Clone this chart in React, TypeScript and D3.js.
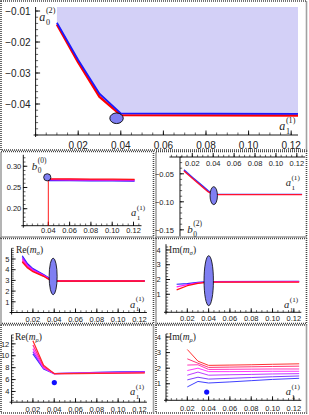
import React from 'react';
import * as d3 from 'd3';

// ---------- data ----------
const ticks002 = [0.02, 0.04, 0.06, 0.08, 0.1, 0.12];

// top panel: a0^(2) vs a1^(1)
const topX = [0.01, 0.02, 0.03, 0.04, 0.1232];
const topBlue = [-0.0138, -0.0258, -0.0367, -0.043, -0.0432];
const topRed = [-0.0143, -0.0266, -0.0377, -0.0436, -0.0437];
const topPoint = { x: 0.038, y: -0.0446 };

// b0^(0)
const b00X = [0.04, 0.06, 0.08, 0.1, 0.121];
const b00Lines = [
  [0.2665, 0.2662, 0.2658, 0.2655, 0.2652],
  [0.2678, 0.2675, 0.2671, 0.2668, 0.2665],
  [0.2692, 0.2688, 0.2685, 0.2681, 0.2678],
  [0.2705, 0.2702, 0.2698, 0.2695, 0.2692],
];
const b00DropX = [0.04, 0.04];
const b00DropY = [0.16, 0.2705];
const b00Point = { x: 0.039, y: 0.274 };

// b0^(2)
const b02X = [0.012, 0.02, 0.03, 0.035, 0.04, 0.125];
const b02Blue = [-0.043, -0.056, -0.072, -0.08, -0.0865, -0.0868];
const b02Red = [-0.045, -0.058, -0.074, -0.082, -0.0872, -0.0872];
const b02Point = { x: 0.0405, y: -0.089 };

// Re(m_sigma)
const reSigX = [0.01, 0.015, 0.02, 0.03, 0.037, 0.04, 0.125];
const reSigLines = [
  [5.3, 4.55, 4.1, 3.55, 3.1, 2.95, 2.95],
  [5.15, 4.45, 4.02, 3.5, 3.07, 2.95, 2.95],
  [5.0, 4.35, 3.95, 3.46, 3.04, 2.95, 2.95],
  [4.85, 4.25, 3.88, 3.42, 3.0, 2.95, 2.95],
  [4.72, 4.15, 3.82, 3.38, 2.98, 2.93, 2.93],
];
const reSigPoint = { x: 0.039, y: 3.37 };

// Im(m_sigma)
const imSigX = [0.01, 0.02, 0.03, 0.04, 0.125];
const imSigLines = [
  [1.68, 1.72, 1.8, 1.85, 1.87],
  [1.5, 1.65, 1.77, 1.84, 1.85],
  [1.3, 1.58, 1.74, 1.82, 1.82],
];
const imSigPoint = { x: 0.0401, y: 1.92 };

// Re(m_rho)
const reRhoX = [0.02, 0.03, 0.04, 0.06, 0.08, 0.1, 0.125];
const reRhoLines = [
  [10.3, 7.8, 7.0, 7.1, 7.2, 7.28, 7.35],
  [10.7, 7.9, 7.0, 7.08, 7.15, 7.22, 7.28],
  [11.2, 8.0, 7.0, 7.05, 7.1, 7.16, 7.22],
  [11.8, 8.2, 7.0, 7.03, 7.06, 7.1, 7.15],
  [12.5, 8.4, 7.0, 7.0, 7.03, 7.06, 7.1],
];
const reRhoPoint = { x: 0.0401, y: 5.5 };

// Im(m_rho)
const imRhoX = [0.02, 0.03, 0.04, 0.06, 0.08, 0.1, 0.125];
const imRhoLines = [
  [0.8, 1.15, 1.05, 1.12, 1.2, 1.28, 1.35],
  [1.25, 1.42, 1.3, 1.35, 1.4, 1.45, 1.5],
  [1.55, 1.75, 1.55, 1.58, 1.6, 1.63, 1.65],
  [1.85, 2.0, 1.78, 1.78, 1.79, 1.8, 1.8],
  [2.2, 2.22, 1.92, 1.93, 1.94, 1.95, 1.95],
  [2.6, 2.32, 2.05, 2.07, 2.09, 2.11, 2.13],
  [3.2, 2.45, 2.18, 2.2, 2.22, 2.25, 2.28],
];
const imRhoPoint = { x: 0.0382, y: 0.47 };

// ---------- helpers ----------
type Sc = d3.ScaleLinear<number, number>;
const tickFont = 'Liberation Sans, Arial, sans-serif';
const serif = 'Liberation Serif, Times New Roman, serif';

const blend = (i: number, n: number) =>
  d3.interpolateHsl('#2020ff', '#ff1010')(n === 1 ? 1 : i / (n - 1));

const fmt2 = (v: number) => v.toFixed(2).replace('-', '\u2212');
const fmtInt = (v: number) => String(v);

function range(lo: number, hi: number, step: number) {
  const out: number[] = [];
  for (let k = Math.ceil(lo / step - 1e-6); k * step <= hi + 1e-9; k++) out.push(k * step);
  return out;
}

type AxesProps = {
  x: Sc; y: Sc; xAt: number; yAt: number;
  xMajor: number[]; xMinor: number; yMajor: number[]; yMinor: number;
  xFmt: (v: number) => string; yFmt: (v: number) => string;
  fs: number; xLabelDy: number; yGap: number; major?: number; minor?: number;
};

function Axes(p: AxesProps) {
  const { x, y } = p;
  const major = p.major ?? 4;
  const minor = p.minor ?? 2.2;
  const [xd0, xd1] = x.domain();
  const [yd0, yd1] = y.domain();
  const ax = y(p.xAt);
  const ay = x(p.yAt);
  const xr = x.range();
  const yr = y.range();
  return (
    <g stroke="#000" strokeWidth={0.9} fill="none">
      <line x1={xr[0] - 2} x2={xr[1]} y1={ax} y2={ax} />
      <line x1={ay} x2={ay} y1={yr[0] + 2} y2={yr[1]} />
      {range(xd0, xd1, p.xMinor).map((v, i) => (
        <line key={'xm' + i} x1={x(v)} x2={x(v)} y1={ax} y2={ax - minor} strokeWidth={0.6} />
      ))}
      {p.xMajor.map((v, i) => (
        <line key={'xM' + i} x1={x(v)} x2={x(v)} y1={ax} y2={ax - major} />
      ))}
      {range(yd0, yd1, p.yMinor).map((v, i) => (
        <line key={'ym' + i} x1={ay} x2={ay + minor} y1={y(v)} y2={y(v)} strokeWidth={0.6} />
      ))}
      {p.yMajor.map((v, i) => (
        <line key={'yM' + i} x1={ay} x2={ay + major} y1={y(v)} y2={y(v)} />
      ))}
      <g stroke="none" fill="#222" fontFamily={tickFont} fontSize={p.fs}>
        {p.xMajor.map((v, i) => (
          <text key={'xl' + i} x={x(v)} y={ax + p.xLabelDy} textAnchor="middle">{p.xFmt(v)}</text>
        ))}
        {p.yMajor.map((v, i) => (
          <text key={'yl' + i} x={ay - p.yGap} y={y(v) + p.fs * 0.36} textAnchor="end">{p.yFmt(v)}</text>
        ))}
      </g>
    </g>
  );
}

function Sym({ x, y, base, sub, sup, fs }: { x: number; y: number; base: string; sub: string; sup: string; fs: number }) {
  return (
    <g fontFamily={serif} fill="#222">
      <text x={x} y={y} fontSize={fs} fontStyle="italic">{base}</text>
      <text x={x + fs * 0.55} y={y - fs * 0.62} fontSize={fs * 0.68}>{sup}</text>
      <text x={x + fs * 0.55} y={y + fs * 0.32} fontSize={fs * 0.68}>{sub}</text>
    </g>
  );
}

function Mass({ x, y, part, sub, fs }: { x: number; y: number; part: string; sub: string; fs: number }) {
  return (
    <text x={x} y={y} fontFamily={serif} fontSize={fs} fill="#222">
      {part}(<tspan fontStyle="italic">m</tspan>
      <tspan dy={fs * 0.3} fontSize={fs * 0.7} fontStyle="italic">{sub}</tspan>
      <tspan dy={-fs * 0.3}>)</tspan>
    </text>
  );
}

function Frame({ r }: { r: [number, number, number, number] }) {
  return (
    <rect x={r[0]} y={r[1]} width={r[2] - r[0]} height={r[3] - r[1]} fill="none"
      stroke="#444" strokeWidth={1.6} strokeDasharray="1 1" />
  );
}

function Lines({ xs, rows, x, y, w, opacity = 1 }: { xs: number[]; rows: number[][]; x: Sc; y: Sc; w: number; opacity?: number }) {
  const gen = d3.line<number>().x((_, i) => x(xs[i])).y((d) => y(d));
  return (
    <g fill="none" strokeWidth={w} strokeLinejoin="round" opacity={opacity}>
      {rows.map((r, i) => (
        <path key={i} d={gen(r) ?? ''} stroke={blend(i, rows.length)} />
      ))}
    </g>
  );
}

const ellFill = '#7f7ff2';

export default function App() {
  // top panel
  const tx = d3.scaleLinear().domain([0, 0.1232]).range([35.6, 298]);
  const ty = d3.scaleLinear().domain([-0.05, -0.0087]).range([135, 7]);
  const topLine = d3.line<number>().x((_, i) => tx(topX[i])).y((d) => ty(d));
  const topArea = d3.area<number>().x((_, i) => tx(topX[i])).y0(() => ty(-0.0087)).y1((d) => ty(d));

  // row 2
  const ax2 = d3.scaleLinear().domain([0.0165, 0.1275]).range([23.3, 141.5]);
  const ay2 = d3.scaleLinear().domain([0.16, 0.327]).range([225.7, 154.8]);
  const bx2 = d3.scaleLinear().domain([0, 0.128]).range([171.4, 305.2]);
  const by2 = d3.scaleLinear().domain([-0.158, -0.02]).range([234.3, 157]);
  const dropLine = d3.line<number>().x((_, i) => ax2(b00DropX[i])).y((d) => ay2(d));
  const b02Line = d3.line<number>().x((_, i) => bx2(b02X[i])).y((d) => by2(d));

  // row 3
  const ax3 = d3.scaleLinear().domain([0, 0.127]).range([11.6, 146.9]);
  const ay3 = d3.scaleLinear().domain([0, 6]).range([312.5, 248.3]);
  const bx3 = d3.scaleLinear().domain([0, 0.127]).range([166, 301.3]);
  const by3 = d3.scaleLinear().domain([-0.22, 4.39]).range([312.3, 244.2]);

  // row 4
  const ax4 = d3.scaleLinear().domain([0, 0.127]).range([11.6, 146.9]);
  const ay4 = d3.scaleLinear().domain([2.2, 13.5]).range([402.2, 334.9]);
  const bx4 = d3.scaleLinear().domain([0, 0.127]).range([166, 301.3]);
  const by4 = d3.scaleLinear().domain([-0.06, 4.2]).range([400.3, 333.9]);

  return (
    <svg width={309} height={415} viewBox="0 0 309 415"
      style={{ position: 'absolute', left: 0, top: 0, background: '#fff' }}>
      {/* frames */}
      <Frame r={[1, 1, 306.5, 150]} />
      <Frame r={[1, 151.5, 153.5, 237]} />
      <Frame r={[156, 151.5, 306.5, 237]} />
      <Frame r={[1, 238.5, 153.5, 323.5]} />
      <Frame r={[156, 238.5, 306.5, 323.5]} />
      <Frame r={[1, 325, 153.5, 413]} />
      <Frame r={[156, 325, 306.5, 413]} />

      {/* ---- top panel ---- */}
      <path d={topArea(topBlue) ?? ''} fill="#d3d0f7" />
      <path d={topLine(topRed) ?? ''} fill="none" stroke="#ff0000" strokeWidth={2.4} strokeLinejoin="round" />
      <path d={topLine(topBlue) ?? ''} fill="none" stroke="#1a1aff" strokeWidth={1.8} strokeLinejoin="round" />
      <Axes x={tx} y={ty} xAt={-0.05} yAt={0} xMajor={ticks002} xMinor={0.005}
        yMajor={[-0.04, -0.03, -0.02, -0.01]} yMinor={0.002} xFmt={fmt2} yFmt={fmt2}
        fs={10} xLabelDy={14} yGap={5} major={4.5} minor={2.5} />
      <ellipse cx={tx(topPoint.x)} cy={ty(topPoint.y)} rx={6.7} ry={5.3} fill={ellFill} stroke="#000" strokeWidth={0.9} />
      <Sym x={39.3} y={20.7} base="a" sub="0" sup="(2)" fs={12} />
      <Sym x={279.3} y={130} base="a" sub="1" sup="(1)" fs={12} />

      {/* ---- b0^(0) ---- */}
      <Axes x={ax2} y={ay2} xAt={0.16} yAt={0.0165} xMajor={[0.04, 0.06, 0.08, 0.1, 0.12]} xMinor={0.005}
        yMajor={[0.2, 0.25, 0.3]} yMinor={0.01} xFmt={fmt2} yFmt={fmt2}
        fs={7.5} xLabelDy={7.6} yGap={2} />
      <Lines xs={b00X} rows={b00Lines} x={ax2} y={ay2} w={1.3} />
      <path d={dropLine(b00DropY) ?? ''} stroke="#ff0000" strokeWidth={0.9} fill="none" />
      <circle cx={ax2(b00Point.x)} cy={ay2(b00Point.y)} r={3.6} fill={ellFill} stroke="#000" strokeWidth={0.8} />
      <Sym x={31.7} y={169.7} base="b" sub="0" sup="(0)" fs={11} />
      <Sym x={131} y={216.3} base="a" sub="1" sup="(1)" fs={10.5} />

      {/* ---- b0^(2) ---- */}
      <Axes x={bx2} y={by2} xAt={-0.02} yAt={0.0082} xMajor={ticks002} xMinor={0.005}
        yMajor={[-0.15, -0.1, -0.05]} yMinor={0.01} xFmt={fmt2} yFmt={fmt2}
        fs={7.5} xLabelDy={9.4} yGap={6} />
      <path d={b02Line(b02Blue) ?? ''} fill="none" stroke="#3030ff" strokeWidth={1.4} />
      <path d={b02Line(b02Red) ?? ''} fill="none" stroke="#ff1030" strokeWidth={1.4} />
      <ellipse cx={bx2(b02Point.x)} cy={by2(b02Point.y)} rx={3.7} ry={9} fill={ellFill} stroke="#000" strokeWidth={0.8} />
      <Sym x={187.3} y={233} base="b" sub="0" sup="(2)" fs={11} />
      <Sym x={285.7} y={186.3} base="a" sub="1" sup="(1)" fs={10.5} />

      {/* ---- Re(m_sigma) ---- */}
      <Axes x={ax3} y={ay3} xAt={0} yAt={0} xMajor={ticks002} xMinor={0.005}
        yMajor={[1, 2, 3, 4, 5]} yMinor={0.2} xFmt={fmt2} yFmt={fmtInt}
        fs={7.5} xLabelDy={9} yGap={2.3} />
      <Lines xs={reSigX} rows={reSigLines} x={ax3} y={ay3} w={1.2} />
      <ellipse cx={ax3(reSigPoint.x)} cy={ay3(reSigPoint.y)} rx={4} ry={18.3} fill={ellFill} stroke="#000" strokeWidth={0.8} />
      <Mass x={16} y={252.5} part="Re" sub="σ" fs={9.5} />
      <Sym x={130} y={307.5} base="a" sub="1" sup="(1)" fs={10.5} />

      {/* ---- Im(m_sigma) ---- */}
      <Axes x={bx3} y={by3} xAt={-0.22} yAt={0} xMajor={ticks002} xMinor={0.005}
        yMajor={[1, 2, 3, 4]} yMinor={0.2} xFmt={fmt2} yFmt={fmtInt}
        fs={7.5} xLabelDy={9} yGap={5.3} />
      <Lines xs={imSigX} rows={imSigLines} x={bx3} y={by3} w={1.2} />
      <ellipse cx={bx3(imSigPoint.x)} cy={by3(imSigPoint.y)} rx={4.7} ry={25} fill={ellFill} stroke="#000" strokeWidth={0.8} />
      <Mass x={169} y={252.5} part="Im" sub="σ" fs={9.5} />
      <Sym x={284} y={308.3} base="a" sub="1" sup="(1)" fs={10.5} />

      {/* ---- Re(m_rho) ---- */}
      <Axes x={ax4} y={ay4} xAt={2.2} yAt={0} xMajor={ticks002} xMinor={0.005}
        yMajor={[4, 6, 8, 10, 12]} yMinor={0.5} xFmt={fmt2} yFmt={fmtInt}
        fs={7.5} xLabelDy={9.3} yGap={2.3} />
      <Lines xs={reRhoX} rows={reRhoLines} x={ax4} y={ay4} w={1.2} opacity={0.9} />
      <circle cx={ax4(reRhoPoint.x)} cy={ay4(reRhoPoint.y)} r={2.6} fill="#1010ff" />
      <Mass x={15} y={339.5} part="Re" sub="ρ" fs={9.5} />
      <Sym x={130} y={395.3} base="a" sub="1" sup="(1)" fs={10.5} />

      {/* ---- Im(m_rho) ---- */}
      <Axes x={bx4} y={by4} xAt={-0.06} yAt={0} xMajor={ticks002} xMinor={0.005}
        yMajor={[1, 2, 3, 4]} yMinor={0.2} xFmt={fmt2} yFmt={fmtInt}
        fs={7.5} xLabelDy={10.5} yGap={5} />
      <Lines xs={imRhoX} rows={imRhoLines} x={bx4} y={by4} w={1} opacity={0.85} />
      <circle cx={bx4(imRhoPoint.x)} cy={by4(imRhoPoint.y)} r={2.6} fill="#1010ff" />
      <Mass x={169} y={339.5} part="Im" sub="ρ" fs={9.5} />
      <Sym x={285.7} y={395.3} base="a" sub="1" sup="(1)" fs={10.5} />
    </svg>
  );
}
